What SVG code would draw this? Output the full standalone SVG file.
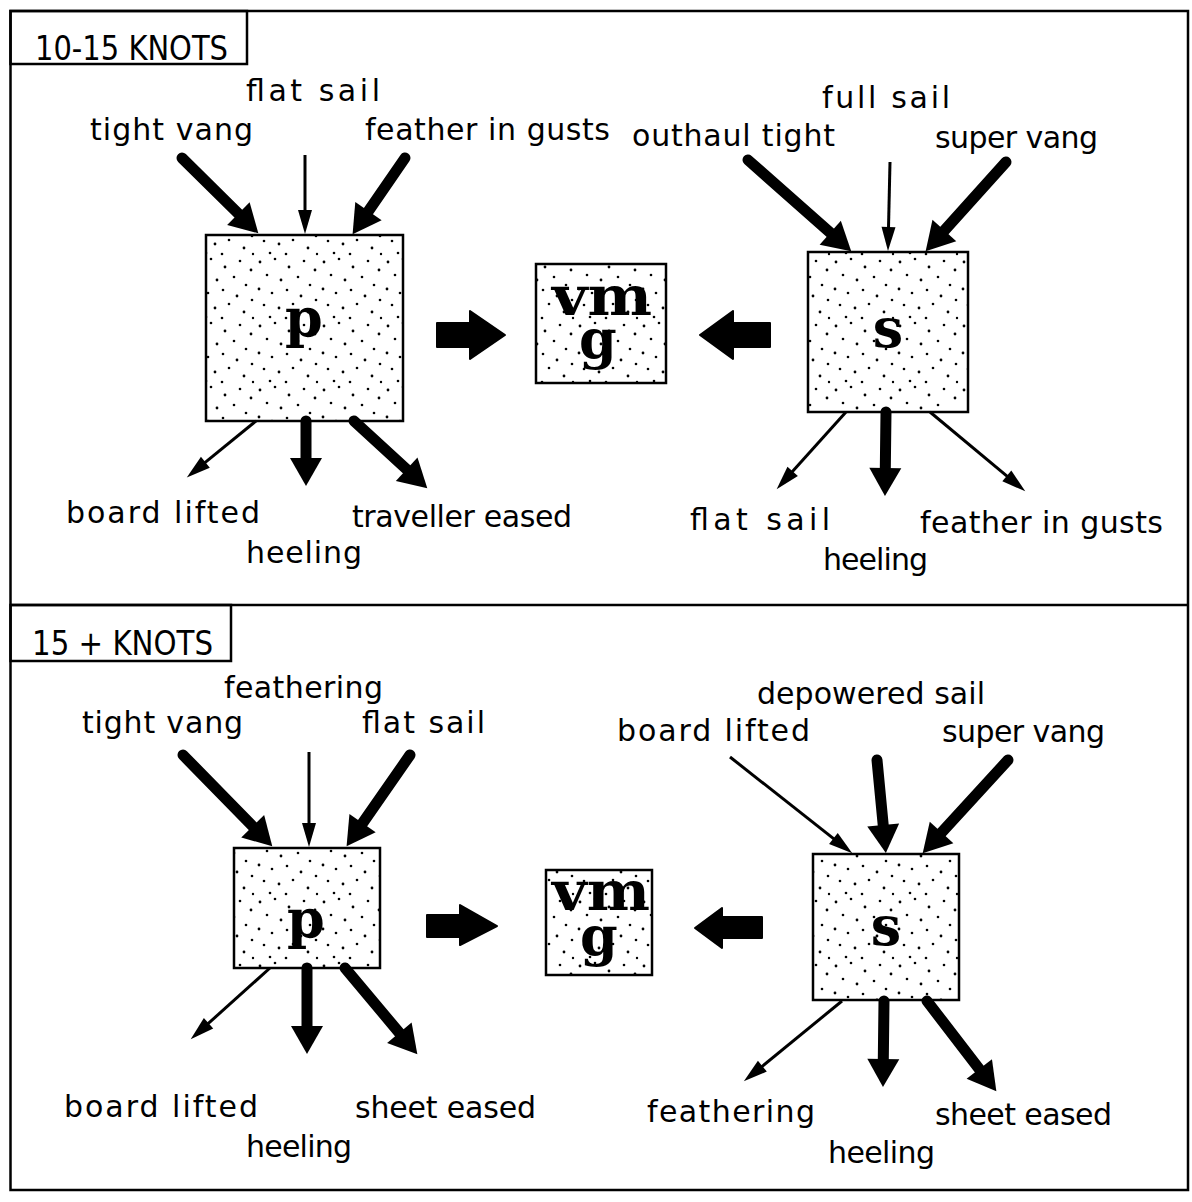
<svg xmlns="http://www.w3.org/2000/svg" width="1192" height="1202" viewBox="0 0 1192 1202">
  <style>
    .frame { fill: none; stroke: #000; stroke-width: 2.5; }
    .box { fill: url(#stipple); stroke: #000; stroke-width: 2.5; }
    .lbl { font-family: "DejaVu Sans", "Liberation Sans", sans-serif; font-size: 30px; fill: #000; }
    .head { font-family: "DejaVu Sans", "Liberation Sans", sans-serif; font-size: 34px; fill: #000; }
    .sym { font-family: "DejaVu Serif", "Liberation Serif", serif; font-weight: bold; font-size: 54px; fill: #000; text-anchor: middle; }
    .thick { stroke: #000; stroke-width: 11; stroke-linecap: round; fill: none; marker-end: url(#headThick); }
    .thin { stroke: #000; stroke-width: 3; stroke-linecap: butt; fill: none; marker-end: url(#headThin); }
    .fat { fill: #000; stroke: #000; stroke-width: 2; stroke-linejoin: round; }
  </style>
  <defs>
    <!-- sparse irregular stipple used inside the boxes -->
    <pattern id="stipple" width="64" height="64" patternUnits="userSpaceOnUse">
      <rect width="64" height="64" fill="#fff"/>
      <g fill="#000">
        <circle cx="4" cy="6" r="1.4"/>
        <circle cx="19" cy="3" r="1.3"/>
        <circle cx="33" cy="11" r="1.4"/>
        <circle cx="48" cy="5" r="1.3"/>
        <circle cx="59" cy="14" r="1.4"/>
        <circle cx="11" cy="19" r="1.3"/>
        <circle cx="25" cy="24" r="1.4"/>
        <circle cx="42" cy="21" r="1.3"/>
        <circle cx="54" cy="29" r="1.3"/>
        <circle cx="3" cy="33" r="1.4"/>
        <circle cx="16" cy="37" r="1.3"/>
        <circle cx="31" cy="34" r="1.3"/>
        <circle cx="45" cy="40" r="1.4"/>
        <circle cx="60" cy="44" r="1.3"/>
        <circle cx="8" cy="49" r="1.3"/>
        <circle cx="23" cy="52" r="1.4"/>
        <circle cx="37" cy="48" r="1.3"/>
        <circle cx="52" cy="56" r="1.4"/>
        <circle cx="14" cy="61" r="1.3"/>
        <circle cx="30" cy="62" r="1.3"/>
        <circle cx="61" cy="62" r="1.2"/>
      </g>
    </pattern>
    <marker id="headThick" markerUnits="userSpaceOnUse" orient="auto" markerWidth="40" markerHeight="40" refX="1" refY="0" viewBox="0 -20 40 40" overflow="visible">
      <path d="M0,-16 L28,0 L0,16 Z" fill="#000"/>
    </marker>
    <marker id="headThin" markerUnits="userSpaceOnUse" orient="auto" markerWidth="30" markerHeight="30" refX="1" refY="0" viewBox="0 -15 30 30" overflow="visible">
      <path d="M0,-7 L24,0 L0,7 Z" fill="#000"/>
    </marker>
  </defs>

  <!-- outer frame, divider and section headings -->
  <g id="frame">
    <rect class="frame" x="10.5" y="11" width="1177.5" height="1179"/>
    <line class="frame" x1="10.5" y1="605" x2="1188" y2="605"/>
    <rect class="frame" x="10.5" y="11" width="236.5" height="53"/>
    <rect class="frame" x="10.5" y="605" width="220.5" height="56"/>
    <text class="head" x="35" y="60" textLength="193" lengthAdjust="spacingAndGlyphs">10-15 KNOTS</text>
    <text class="head" x="32" y="655" textLength="181" lengthAdjust="spacingAndGlyphs">15 + KNOTS</text>
  </g>

  <!-- 10-15 knots section -->
  <g id="p-top">
    <rect class="box" x="206" y="235" width="197" height="186"/>
    <text class="sym" x="304" y="337">p</text>
  </g>
  <g id="vmg-top">
    <rect class="box" x="536" y="264" width="130" height="119"/>
    <text class="sym"><tspan x="602" y="315" textLength="100" lengthAdjust="spacingAndGlyphs">vm</tspan><tspan x="598" y="358">g</tspan></text>
  </g>
  <g id="s-top">
    <rect class="box" x="808" y="252" width="160" height="160"/>
    <text class="sym" x="888" y="347">s</text>
  </g>

  <!-- 15+ knots section -->
  <g id="p-bottom">
    <rect class="box" x="234" y="848" width="146" height="120"/>
    <text class="sym" x="306" y="938">p</text>
  </g>
  <g id="vmg-bottom">
    <rect class="box" x="546" y="870" width="106" height="105"/>
    <text class="sym"><tspan x="601" y="910" textLength="98" lengthAdjust="spacingAndGlyphs">vm</tspan><tspan x="599" y="955">g</tspan></text>
  </g>
  <g id="s-bottom">
    <rect class="box" x="813" y="854" width="146" height="146"/>
    <text class="sym" x="886" y="945">s</text>
  </g>

  <!-- connectors -->
  <g id="connectors">
    <!-- 10-15 knots: into p -->
    <line class="thick" x1="182" y1="158" x2="239.1" y2="214.3"/>
    <line class="thin" x1="305" y1="155" x2="305" y2="211"/>
    <line class="thick" x1="405" y1="158" x2="367.9" y2="211.9"/>
    <!-- out of p -->
    <line class="thin" x1="256" y1="421" x2="204.6" y2="462.9"/>
    <line class="thick" x1="306" y1="421" x2="306" y2="459"/>
    <line class="thick" x1="354" y1="421" x2="407.4" y2="470"/>
    <!-- into s -->
    <line class="thick" x1="748" y1="160" x2="831" y2="233.4"/>
    <line class="thin" x1="890" y1="162" x2="888.5" y2="228"/>
    <line class="thick" x1="1006" y1="162" x2="943.7" y2="231.2"/>
    <!-- out of s -->
    <line class="thin" x1="846" y1="412" x2="792" y2="472.1"/>
    <line class="thick" x1="886" y1="412" x2="885.3" y2="469"/>
    <line class="thin" x1="930" y1="412" x2="1007.6" y2="476.6"/>
    <!-- p and s towards vmg -->
    <polygon class="fat" points="437,323 470,323 470,311 505,335 470,359 470,347 437,347"/>
    <polygon class="fat" points="770,323 733,323 733,311 700,335 733,359 733,347 770,347"/>

    <!-- 15+ knots: into p -->
    <line class="thick" x1="183" y1="755" x2="253.4" y2="827"/>
    <line class="thin" x1="309" y1="752" x2="309" y2="824"/>
    <line class="thick" x1="410" y1="755" x2="362" y2="824"/>
    <!-- out of p -->
    <line class="thin" x1="270" y1="968" x2="207.8" y2="1023.9"/>
    <line class="thick" x1="307" y1="968" x2="307" y2="1027"/>
    <line class="thick" x1="345" y1="968" x2="400" y2="1033.6"/>
    <!-- into s -->
    <line class="thin" x1="730" y1="757" x2="834.2" y2="839.1"/>
    <line class="thick" x1="877" y1="760" x2="883.3" y2="826.1"/>
    <line class="thick" x1="1008" y1="760" x2="940.9" y2="833.3"/>
    <!-- out of s -->
    <line class="thin" x1="842" y1="1001" x2="761.6" y2="1066.8"/>
    <line class="thick" x1="884" y1="1001" x2="883.3" y2="1060"/>
    <line class="thick" x1="927" y1="1001" x2="979.9" y2="1069.8"/>
    <!-- p and s towards vmg -->
    <polygon class="fat" points="427,915 460,915 460,905 497,926 460,945 460,937 427,937"/>
    <polygon class="fat" points="762,917 722,917 722,908 695,928 722,948 722,938 762,938"/>
  </g>

  <!-- connector labels -->
  <g id="labels">
    <text class="lbl" x="246" y="101" textLength="134" lengthAdjust="spacing">flat sail</text>
    <text class="lbl" x="90" y="140" textLength="163" lengthAdjust="spacing">tight vang</text>
    <text class="lbl" x="365" y="140" textLength="245" lengthAdjust="spacing">feather in gusts</text>
    <text class="lbl" x="632" y="146" textLength="203" lengthAdjust="spacing">outhaul tight</text>
    <text class="lbl" x="822" y="108" textLength="128" lengthAdjust="spacing">full sail</text>
    <text class="lbl" x="935" y="148" textLength="163" lengthAdjust="spacing">super vang</text>
    <text class="lbl" x="66" y="523" textLength="194" lengthAdjust="spacing">board lifted</text>
    <text class="lbl" x="246" y="563" textLength="116" lengthAdjust="spacing">heeling</text>
    <text class="lbl" x="352" y="527" textLength="220" lengthAdjust="spacing">traveller eased</text>
    <text class="lbl" x="690" y="530" textLength="140" lengthAdjust="spacing">flat sail</text>
    <text class="lbl" x="920" y="533" textLength="243" lengthAdjust="spacing">feather in gusts</text>
    <text class="lbl" x="823" y="570" textLength="105" lengthAdjust="spacing">heeling</text>

    <text class="lbl" x="224" y="698" textLength="159" lengthAdjust="spacing">feathering</text>
    <text class="lbl" x="82" y="733" textLength="161" lengthAdjust="spacing">tight vang</text>
    <text class="lbl" x="362" y="733" textLength="123" lengthAdjust="spacing">flat sail</text>
    <text class="lbl" x="757" y="704" textLength="228" lengthAdjust="spacing">depowered sail</text>
    <text class="lbl" x="617" y="741" textLength="193" lengthAdjust="spacing">board lifted</text>
    <text class="lbl" x="942" y="742" textLength="163" lengthAdjust="spacing">super vang</text>
    <text class="lbl" x="64" y="1117" textLength="194" lengthAdjust="spacing">board lifted</text>
    <text class="lbl" x="246" y="1157" textLength="106" lengthAdjust="spacing">heeling</text>
    <text class="lbl" x="355" y="1118" textLength="181" lengthAdjust="spacing">sheet eased</text>
    <text class="lbl" x="647" y="1122" textLength="168" lengthAdjust="spacing">feathering</text>
    <text class="lbl" x="828" y="1163" textLength="107" lengthAdjust="spacing">heeling</text>
    <text class="lbl" x="935" y="1125" textLength="177" lengthAdjust="spacing">sheet eased</text>
  </g>
</svg>
